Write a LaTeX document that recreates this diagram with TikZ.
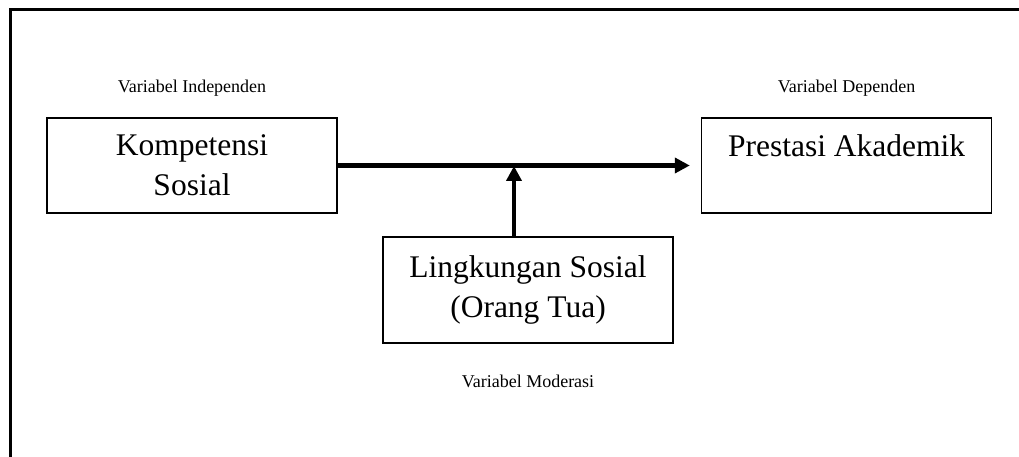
\documentclass[tikz,border=0pt]{standalone}
\usepackage{fontspec}
\setmainfont{Liberation Serif}
\usetikzlibrary{positioning,arrows.meta}

\tikzset{
  varbox/.style={draw, line width=1.6pt, minimum width=290pt, align=center,
    font=\fontsize{31.5pt}{40pt}\selectfont},
  varlabel/.style={inner sep=0pt, font=\fontsize{18pt}{22pt}\selectfont},
  thickarrow/.style={line width=4.5pt, -{Triangle[length=15pt,width=15pt]}}
}

\begin{document}
\begin{tikzpicture}[x=1pt,y=-1pt]

  \useasboundingbox (0,0) rectangle (1019,457);

  % frame
  \draw[line width=3pt] (1019,10) -- (10,10) -- (10,457);

  \node[varbox, minimum height=95pt] (kompetensi) at (192,165.5) {Kompetensi\\Sosial};
  \node[varbox, minimum height=95pt, right=363pt of kompetensi] (prestasi) {Prestasi Akademik\\\mbox{}};
  \node[varbox, minimum height=106pt] (lingkungan) at (528,290) {Lingkungan Sosial\\(Orang Tua)};

  \node[varlabel, above=21pt of kompetensi] (var_indep) {Variabel Independen};
  \node[varlabel, above=21pt of prestasi] (var_dep) {Variabel Dependen};
  \node[varlabel, below=31pt of lingkungan] (var_mod) {Variabel Moderasi};

  \coordinate (join) at (514,166);

  \draw[thickarrow, shorten >=11pt] (kompetensi.east) -- (prestasi.west);
  \draw[thickarrow] (lingkungan.north -| join) -- (join);

\end{tikzpicture}
\end{document}
